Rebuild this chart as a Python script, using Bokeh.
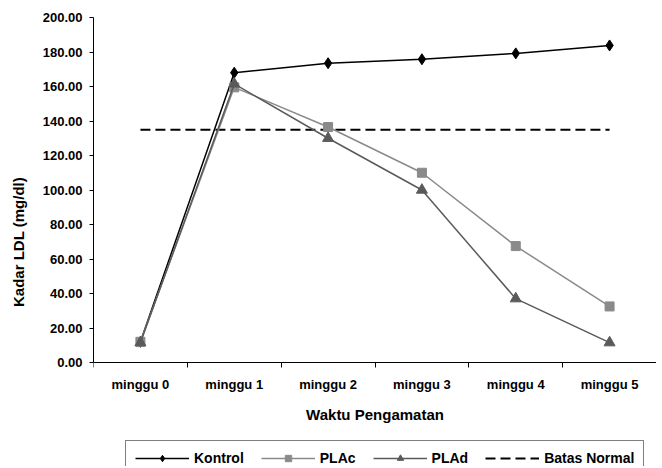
from bokeh.plotting import figure
from bokeh.models import Legend, LegendItem, ColumnDataSource, Range1d, NumeralTickFormatter, FixedTicker, LinearAxis
from bokeh.embed import file_html
from bokeh.resources import INLINE

categories = ["minggu 0", "minggu 1", "minggu 2", "minggu 3", "minggu 4", "minggu 5"]
kontrol = [12.0, 168.0, 173.5, 175.8, 179.2, 183.8]
plac = [12.0, 159.5, 136.5, 110.0, 67.5, 32.5]
plad = [11.5, 161.5, 130.0, 100.0, 37.0, 11.5]
batas_normal = [135.0] * 6
y_ticks = [0, 20, 40, 60, 80, 100, 120, 140, 160, 180, 200]

FONT = "Liberation Sans"

# layout constants (pixels)
W, H = 656, 466
TOP, LEFT = 17, 93
AXIS_PX = 345          # pixels from value 0 to value 200
frame_h = H - TOP
y_min = 200 - 200 * frame_h / AXIS_PX
LEGEND_TOP = 441
LEGEND_H = 35

xs = [i + 0.5 for i in range(len(categories))]
src = ColumnDataSource(dict(x=xs, kontrol=kontrol, plac=plac, plad=plad, batas=batas_normal))

p = figure(width=W, height=H, x_range=Range1d(0, len(categories)),
           y_range=Range1d(y_min, 200), output_backend="svg", toolbar_location=None,
           x_axis_type=None,
           min_border_left=LEFT, min_border_right=0, min_border_top=TOP, min_border_bottom=0)
p.outline_line_color = None
p.xgrid.grid_line_color = None
p.ygrid.grid_line_color = None
p.background_fill_color = "white"
p.border_fill_color = "white"

xaxis = LinearAxis(fixed_location=0)
p.add_layout(xaxis, "below")

p.yaxis.ticker = FixedTicker(ticks=y_ticks)
p.yaxis.formatter = NumeralTickFormatter(format="0.00")
p.yaxis.bounds = (0, 200)
xaxis.ticker = FixedTicker(ticks=xs, minor_ticks=list(range(len(categories) + 1)))
xaxis.major_label_overrides = {x: c for x, c in zip(xs, categories)}
p.yaxis.axis_label = "Kadar LDL (mg/dl)"
xaxis.axis_label = "Waktu Pengamatan"
for ax in (xaxis, p.yaxis[0]):
    ax.axis_line_color = "black"
    ax.axis_line_width = 1
    ax.major_tick_line_color = "black"
    ax.major_tick_in = 0
    ax.major_tick_out = 4
    ax.minor_tick_line_color = None
    ax.major_label_text_font = FONT
    ax.major_label_text_font_style = "bold"
    ax.major_label_text_font_size = "13px"
    ax.major_label_text_color = "black"
    ax.axis_label_text_font = FONT
    ax.axis_label_text_font_style = "bold"
    ax.axis_label_text_font_size = "15px"
    ax.axis_label_text_color = "black"
xaxis.major_tick_line_color = None
xaxis.minor_tick_line_color = "black"
xaxis.minor_tick_in = 0
xaxis.minor_tick_out = 5
xaxis.major_label_standoff = 9
xaxis.axis_label_standoff = 11
p.yaxis.major_label_standoff = 7
p.yaxis.axis_label_standoff = 13

r_batas = p.line("x", "batas", source=src, line_color="black", line_width=2, line_dash="10 5")
r_k_l = p.line("x", "kontrol", source=src, line_color="black", line_width=1.5)
r_k_m = p.scatter("x", "kontrol", source=src, marker="diamond", size=11, fill_color="black", line_color="black")
r_c_l = p.line("x", "plac", source=src, line_color="#8a8a8a", line_width=1.5)
r_c_m = p.scatter("x", "plac", source=src, marker="square", size=9, fill_color="#8a8a8a", line_color="#8a8a8a")
r_d_l = p.line("x", "plad", source=src, line_color="#5a5a5a", line_width=1.5)
r_d_m = p.scatter("x", "plad", source=src, marker="triangle", size=11, fill_color="#5a5a5a", line_color="#5a5a5a")

legend = Legend(items=[
    LegendItem(label="Kontrol", renderers=[r_k_l, r_k_m]),
    LegendItem(label="PLAc", renderers=[r_c_l, r_c_m]),
    LegendItem(label="PLAd", renderers=[r_d_l, r_d_m]),
    LegendItem(label="Batas Normal", renderers=[r_batas]),
], orientation="horizontal", location=(32, H - (LEGEND_TOP + LEGEND_H)))
legend.label_text_font = FONT
legend.label_text_font_style = "bold"
legend.label_text_font_size = "14px"
legend.label_text_color = "black"
legend.glyph_width = 54
legend.glyph_height = 16
legend.label_standoff = 5
legend.spacing = 17
legend.padding = 9
legend.margin = 0
legend.border_line_color = "black"
legend.border_line_width = 1
legend.background_fill_alpha = 1
p.add_layout(legend, "center")

open("out.html", "w").write(file_html(p, INLINE))
